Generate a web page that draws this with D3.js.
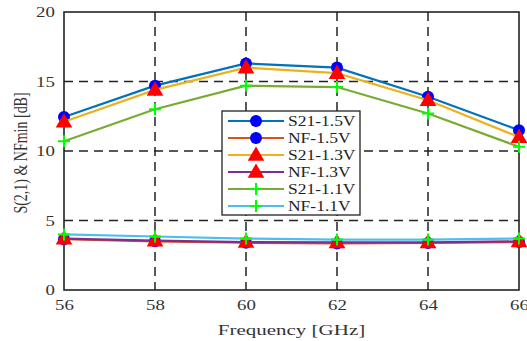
<!DOCTYPE html>
<html>
<head>
<meta charset="utf-8">
<script src="https://cdn.jsdelivr.net/npm/d3@7"></script>
<style>
  body { margin: 0; background: #fff; }
  svg { font-family: "Liberation Serif", "DejaVu Serif", serif; }
</style>
</head>
<body>
<svg id="chart" width="527" height="341"></svg>
<script>
const freqs = [56, 58, 60, 62, 64, 66];
const s21_15 = [12.45, 14.7, 16.3, 16.0, 13.9, 11.5];
const nf_15 = [3.65, 3.5, 3.4, 3.35, 3.38, 3.45];
const s21_13 = [12.1, 14.4, 16.0, 15.6, 13.65, 11.0];
const nf_13 = [3.7, 3.55, 3.45, 3.42, 3.42, 3.5];
const s21_11 = [10.7, 13.0, 14.7, 14.6, 12.7, 10.3];
const nf_11 = [4.0, 3.85, 3.7, 3.63, 3.63, 3.7];
const yTicks = [0, 5, 10, 15, 20];

const series = [
  { name: "S21-1.5V", values: s21_15, color: "#0072BD", marker: "circle" },
  { name: "NF-1.5V", values: nf_15, color: "#D95319", marker: "circle" },
  { name: "S21-1.3V", values: s21_13, color: "#EDB120", marker: "triangle" },
  { name: "NF-1.3V", values: nf_13, color: "#7E2F8E", marker: "triangle" },
  { name: "S21-1.1V", values: s21_11, color: "#77AC30", marker: "plus" },
  { name: "NF-1.1V", values: nf_11, color: "#4DBEEE", marker: "plus" }
];

// the source image is stretched sideways, so text is widened to match
const stretch = 1.3;

const margin = { top: 12, right: 8, bottom: 51, left: 64 };
const width = 527, height = 341;
const innerW = width - margin.left - margin.right;
const innerH = height - margin.top - margin.bottom;

const svg = d3.select("#chart");
const g = svg.append("g").attr("transform", `translate(${margin.left},${margin.top})`);

const x = d3.scaleLinear().domain([56, 66]).range([0, innerW]);
const y = d3.scaleLinear().domain([0, 20]).range([innerH, 0]);

// Dashed grid
g.append("g")
  .selectAll("line")
  .data(freqs.slice(1, -1))
  .enter().append("line")
  .attr("x1", (d) => x(d)).attr("x2", (d) => x(d))
  .attr("y1", 0).attr("y2", innerH)
  .attr("stroke", "#222").attr("stroke-width", 1.5)
  .attr("stroke-dasharray", "9,6");
g.append("g")
  .selectAll("line")
  .data(yTicks.slice(1, -1))
  .enter().append("line")
  .attr("x1", 0).attr("x2", innerW)
  .attr("y1", (d) => y(d)).attr("y2", (d) => y(d))
  .attr("stroke", "#222").attr("stroke-width", 1.5)
  .attr("stroke-dasharray", "9,6");

// Axes
const xAxis = g.append("g")
  .attr("transform", `translate(0,${innerH})`)
  .call(d3.axisBottom(x).tickValues(freqs).tickSize(0).tickPadding(10));
const yAxis = g.append("g")
  .call(d3.axisLeft(y).tickValues(yTicks).tickSize(0).tickPadding(7));
[xAxis, yAxis].forEach((a) => {
  a.select(".domain").remove();
  a.selectAll("text").attr("font-size", 14.5).attr("fill", "#333")
    .attr("font-family", "Liberation Serif, serif")
    .attr("transform", `scale(${stretch},1)`);
});
yAxis.selectAll("text").attr("x", -7);

// Plot box
g.append("rect")
  .attr("width", innerW).attr("height", innerH)
  .attr("fill", "none").attr("stroke", "#222").attr("stroke-width", 1.6);

const line = d3.line().x((d, i) => x(freqs[i])).y((d) => y(d));

function drawMarker(sel, type, cx, cy) {
  if (type === "circle") {
    sel.append("circle").attr("cx", cx).attr("cy", cy).attr("r", 6).attr("fill", "#0000FF");
  } else if (type === "triangle") {
    sel.append("path")
      .attr("d", d3.symbol().type(d3.symbolTriangle).size(120)())
      .attr("transform", `translate(${cx},${cy + 1})`)
      .attr("fill", "#FF0000");
  } else {
    sel.append("path")
      .attr("d", `M${cx - 6},${cy}H${cx + 6}M${cx},${cy - 6}V${cy + 6}`)
      .attr("stroke", "#00FF00").attr("stroke-width", 2);
  }
}

series.forEach((s) => {
  const sg = g.append("g");
  sg.append("path")
    .datum(s.values)
    .attr("d", line)
    .attr("fill", "none")
    .attr("stroke", s.color)
    .attr("stroke-width", 2.2);
  s.values.forEach((v, i) => drawMarker(sg, s.marker, x(freqs[i]), y(v)));
});

// Legend
const lg = svg.append("g").attr("transform", "translate(222,111)");
lg.append("rect").attr("width", 138).attr("height", 104)
  .attr("fill", "#fff").attr("stroke", "#222").attr("stroke-width", 1.3);
series.forEach((s, i) => {
  const yy = 10 + i * 17;
  lg.append("line").attr("x1", 6).attr("x2", 62).attr("y1", yy).attr("y2", yy)
    .attr("stroke", s.color).attr("stroke-width", 2.2);
  drawMarker(lg, s.marker, 34, yy);
  lg.append("text")
    .attr("transform", `translate(66,${yy}) scale(${stretch - 0.05},1)`)
    .attr("dy", "0.35em")
    .attr("font-size", 14).attr("fill", "#222").text(s.name);
});

// Axis titles
svg.append("text")
  .attr("transform", `translate(${margin.left + innerW / 2},335) scale(${stretch + 0.1},1)`)
  .attr("text-anchor", "middle").attr("font-size", 15).attr("fill", "#333")
  .text("Frequency [GHz]");
svg.append("text")
  .attr("transform", `translate(27,153) scale(${stretch},1) rotate(-90)`)
  .attr("text-anchor", "middle").attr("font-size", 14).attr("fill", "#333")
  .text("S(2,1) & NFmin [dB]");
</script>
</body>
</html>
